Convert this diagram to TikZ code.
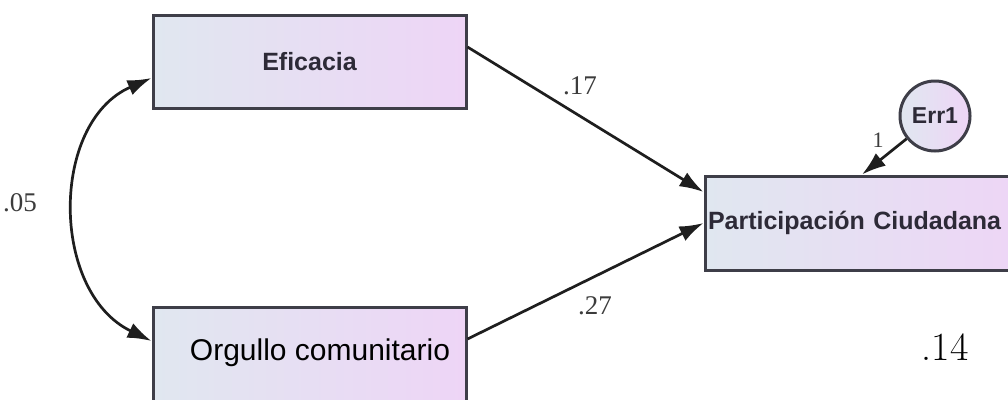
\documentclass[tikz,border=0pt]{standalone}
\usepackage{fontspec}
\setmainfont{Liberation Sans}
\newfontfamily\serifnum{Liberation Serif}
\newfontfamily\lmfont{Latin Modern Roman}
\usetikzlibrary{arrows.meta}
\definecolor{boxdraw}{RGB}{62,62,72}
\definecolor{boxl}{RGB}{224,231,240}
\definecolor{boxr}{RGB}{238,213,246}
\definecolor{txtdark}{RGB}{45,42,55}
\definecolor{linecol}{RGB}{30,30,30}
\definecolor{lblcol}{RGB}{60,60,60}
\begin{document}
\begin{tikzpicture}[x=1pt,y=-1pt,
  box/.style={draw=boxdraw, line width=3pt, shading=axis, left color=boxl, right color=boxr,
    inner sep=0pt, minimum width=313pt, minimum height=93pt},
  errc/.style={circle, draw=boxdraw, line width=3pt, shading=axis, left color=boxl, right color=boxr,
    inner sep=0pt, minimum size=70pt},
  arr/.style={draw=linecol, line width=2.7pt, -{Latex[length=24pt,width=16pt]}},
  coef/.style={font=\serifnum\fontsize{27}{29}\selectfont, text=lblcol, inner sep=0pt}
]
\useasboundingbox (0,0) rectangle (1008,399);
\clip (0,0) rectangle (1008,399);
\fill[white] (0,0) rectangle (1008,399);

\node[box, text=txtdark, font=\bfseries\fontsize{25}{28}\selectfont] (ef) at (309.5,61.5) {Eficacia};
\node[box, minimum height=100pt] (org) at (309.5,357) {};
\node[text=black, font=\fontsize{30}{32}\selectfont, inner sep=0pt] (orgt) at (320,353) {Orgullo comunitario};
\node[box, minimum width=320pt, minimum height=94pt, text width=316pt, align=left, text=txtdark,
  font=\bfseries\fontsize{25}{28}\selectfont, inner xsep=3pt] (part) at (866,223) {Participación Ciudadana};
\node[errc, text=txtdark, font=\bfseries\fontsize{23}{25}\selectfont] (err) at (935,116) {Err1};

\draw[arr] ([yshift=14.5pt]ef.east) -- ([yshift=31pt]part.west);
\draw[arr] ([yshift=18pt]org.east) -- (part.west);
\draw[arr] (err) -- ([xshift=-4pt]part.north);
\draw[arr, {Latex[length=24pt,width=16pt]}-{Latex[length=24pt,width=16pt]}]
  ([yshift=-16.5pt]ef.west) .. controls (50,122) and (50,292) .. ([yshift=16pt]org.west);
\node[coef] (l17) at (580,86) {.17};
\node[coef] (l27) at (595,306) {.27};
\node[coef, font=\serifnum\fontsize{22}{24}\selectfont] (l1) at (878,140) {1};
\node[coef, anchor=east] (l05) at (37,203) {.05};
\node[font=\lmfont\fontsize{40}{42}\selectfont, inner sep=0pt] (r14) at (945,347) {.14};
\end{tikzpicture}
\end{document}
